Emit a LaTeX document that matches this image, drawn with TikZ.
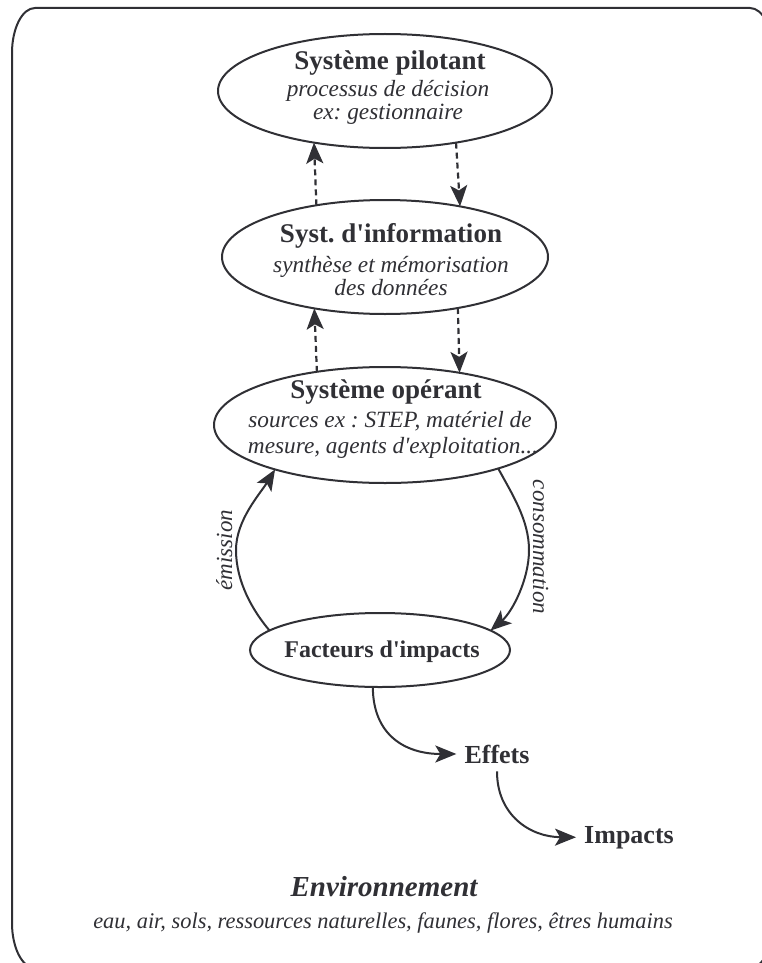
\documentclass[tikz,border=0pt]{standalone}
\usepackage{fontspec}
\newfontfamily\tms{Liberation Serif}
\usetikzlibrary{arrows.meta,shapes.geometric}
\definecolor{ink}{RGB}{48,48,53}
\frenchspacing
\tikzset{
  ell/.style={draw=ink, line width=2pt, ellipse, inner sep=0pt, outer sep=0pt},
  ttl/.style={anchor=base, inner sep=0pt, text=ink, font=\tms\bfseries\fontsize{27}{30}\selectfont},
  subt/.style={anchor=base, inner sep=0pt, text=ink, font=\tms\itshape\fontsize{23.3}{26}\selectfont},
  lbl/.style={anchor=base, inner sep=8pt, text=ink, font=\tms\bfseries\fontsize{26}{30}\selectfont},
  arclbl/.style={anchor=base, inner sep=0pt, text=ink, font=\tms\itshape\fontsize{23}{26}\selectfont},
  tipa/.style={-{Stealth[length=21pt,width=17pt,inset=5pt]}},
  dasharr/.style={draw=ink, line width=2.2pt, dash pattern=on 6pt off 4pt, tipa},
  arr/.style={draw=ink, line width=2pt, tipa},
  frame/.style={draw=ink, line width=2pt}
}
\begin{document}
\begin{tikzpicture}[x=1pt,y=-1pt]
\useasboundingbox (0,0) rectangle (762,963);
\clip (0,0) rectangle (762,963);
\fill[white] (0,0) rectangle (762,963);
% frame
\draw[frame] (35,8) -- (750,8) .. controls (762.7,8) and (773,28.1) .. (773,53)
  -- (773,923) .. controls (773,947.9) and (762.7,968) .. (750,968)
  -- (35,968) .. controls (22.3,968) and (12,947.9) .. (12,923)
  -- (12,53) .. controls (12,28.1) and (22.3,8) .. (35,8) -- cycle;

% ellipses
\node[ell, minimum width=334pt, minimum height=114pt] (pil) at (385,91) {};
\node[ell, minimum width=326pt, minimum height=114pt] (inf) at (385,257) {};
\node[ell, minimum width=342pt, minimum height=116pt] (ope) at (385,425) {};
\node[ell, minimum width=260pt, minimum height=74pt] (fac) at (380,650) {};

% texts
\node[ttl] (pilT) at (390,70) {Système pilotant};
\node[subt] (pilA) at (388,97) {processus de décision};
\node[subt] (pilB) at (388,120) {ex: gestionnaire};

\node[ttl] (infT) at (391,242) {Syst. d'information};
\node[subt] (infA) at (391,272) {synthèse et mémorisation};
\node[subt] (infB) at (391,295) {des données};

\node[ttl] (opeT) at (386,398) {Système opérant};
\node[subt] (opeA) at (390,427) {sources ex : STEP, matériel de};
\node[subt] (opeB) at (393,453) {mesure, agents d'exploitation...};

\node[ttl, font=\tms\bfseries\fontsize{24}{28}\selectfont] (facT) at (382,657) {Facteurs d'impacts};

\node[lbl] (eff) at (497,763) {Effets};
\node[lbl] (imp) at (629,843) {Impacts};

\node[anchor=base, inner sep=0pt, text=ink, font=\tms\bfseries\itshape\fontsize{29}{32}\selectfont] (env) at (384,896) {Environnement};
\node[anchor=base, inner sep=0pt, text=ink, font=\tms\itshape\fontsize{22.4}{26}\selectfont] (envA) at (383,928) {eau, air, sols, ressources naturelles, faunes, flores, êtres humains};

% dashed arrows
\draw[dasharr] (inf.143.7) -- (pil.216.5);
\draw[dasharr] (pil.324.9) -- (inf.34.9);
\draw[dasharr] (ope.142.9) -- (inf.216.3);
\draw[dasharr] (inf.325.1) -- (ope.35.7);

% loop
\draw[arr] (fac.170.8) .. controls (253,611) and (236,582) .. (236,550)
  .. controls (236,520) and (260,494) .. (ope.202.5);
\draw[arr] (ope.339) .. controls (512,494) and (529,520) .. (529,550)
  .. controls (529,580) and (512,612) .. (fac.10.2);
\node[arclbl, rotate=90] (emi) at (232,550) {émission};
\node[arclbl, rotate=-90] (con) at (533,547) {consommation};

% effects chain
\draw[arr] (fac.259) .. controls (373,735) and (405,754) .. (eff.west);
\draw[arr] (eff.south) .. controls (497,815) and (530,837) .. (imp.west);
\end{tikzpicture}
\end{document}
